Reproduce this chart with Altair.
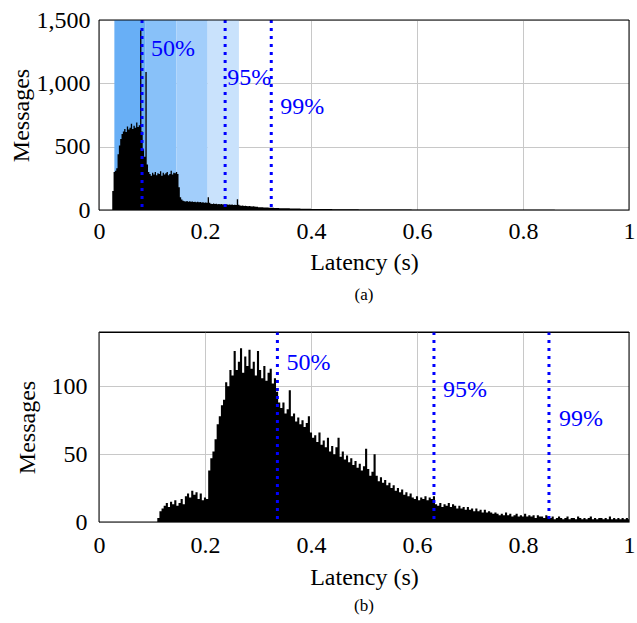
import altair as alt
import pandas as pd

FONT = "Liberation Serif"

# ---------------- panel (a) data ----------------
# histogram segments: (start, bin width, counts)
a_rise = [150, 300, 310, 330, 440, 510, 560, 600, 620, 640, 615, 660, 635, 650,
          680, 640, 665, 650, 690, 655, 670]                       # from 0.025
a_spikes = [1420, 620, 480, 420, 1090, 360, 300]                   # from 0.0775
a_plateau = [285, 270, 295, 280, 300, 275, 290, 285, 305, 270, 295, 280, 290,
             300, 275, 285, 310, 280, 295, 290, 300, 285]          # from 0.095
a_drop = [180, 100, 82, 74]                                        # from 0.150
a_low1 = [70, 68, 72, 66, 69, 65, 67, 64, 66, 62, 65, 61, 63, 60, 62, 58, 60, 57,
          100, 58]                                                 # from 0.160
a_low2 = [50, 48, 51, 47, 49, 46, 48, 45, 47, 44, 46, 43, 45, 42, 44, 41, 43, 40,
          42, 40, 85, 42]                                          # from 0.210
a_low3 = [36, 34, 35, 32, 33, 31, 30, 31, 29, 28, 29, 27, 26, 25]  # from 0.265
a_tail = [22, 19, 17, 16, 14, 13, 12, 11, 10, 9,
          8, 8, 7, 7, 6, 6, 5, 5, 5, 4,
          4, 4, 4, 3, 3, 3, 3, 3, 3, 2,
          2, 2, 2, 2, 2, 2, 2, 2, 2, 2,
          2, 2, 1, 2, 1, 2, 1, 1, 2, 1,
          1, 2, 1, 1, 1, 1]                                        # from 0.30, 0.01 bins
a_segments = [(0.025, 0.0025, a_rise), (0.0775, 0.0025, a_spikes),
              (0.095, 0.0025, a_plateau), (0.150, 0.0025, a_drop),
              (0.160, 0.0025, a_low1), (0.210, 0.0025, a_low2),
              (0.265, 0.0025, a_low3), (0.300, 0.01, a_tail)]
a_percentiles = [0.0812, 0.238, 0.325]
a_pct_labels = ["50%", "95%", "99%"]
a_label_y = [1270, 1045, 815]
a_label_dx = [9, 2, 9]
a_band_edges = [0.029, 0.088, 0.146, 0.205, 0.264]
a_band_colors = ["#68AFF6", "#88C1F9", "#A2CEFB", "#C9E2FC"]

# ---------------- panel (b) data ----------------
b_low = [3, 8, 10, 12, 14, 11, 15, 13, 16, 12, 14, 17, 13, 19, 21, 18, 23, 20,
         22, 17, 21, 16, 18, 17]                                   # from 0.110
b_peak = [38, 47, 52, 61, 72, 78, 86, 90, 103, 100, 112, 108, 126, 112, 118, 128,
          110, 122, 115, 127, 113, 118, 108, 126, 112, 106, 115, 104, 110, 113,
          102, 106]                                                # from 0.206
b_decay = [96, 88, 84, 88, 80, 83, 97, 78, 80, 74, 77, 72, 75, 70, 73, 78, 66, 62,
           64, 59, 66, 57, 60, 55, 62, 52, 56, 50, 55, 62, 48, 52, 46, 49, 44, 47,
           42, 45, 40, 43, 38, 41, 54, 39, 34, 37, 50, 34, 30, 33, 29, 31, 27, 29,
           25, 27, 23, 25, 22, 24, 20, 22, 19, 21, 18, 17, 19, 16, 18, 17, 19, 16,
           18, 17, 19]                                             # from 0.334
b_tail = [13, 12, 14, 11, 13, 12, 14, 11, 13, 12, 10, 12, 10, 11, 9, 11, 9, 10,
          8, 10, 8, 9, 7, 9, 7, 8, 7, 6, 7,
          6, 5, 6, 5, 7, 5, 6, 4, 5, 6, 4, 5, 4, 6, 4, 5, 4, 5, 3, 5, 4, 4, 3, 5, 4,
          3, 4, 2, 3, 4, 3, 2, 3, 4, 2, 3, 3, 2, 4, 3, 2, 3, 2, 3, 4, 2, 3, 2, 3, 3,
          2, 3, 2, 4, 2, 3, 2, 3, 2, 3, 2, 3, 2]                   # from 0.634
b_segments = [(0.110, 0.004, b_low), (0.206, 0.004, b_peak),
              (0.334, 0.004, b_decay), (0.634, 0.004, b_tail)]
b_percentiles = [0.3366, 0.632, 0.849]
b_pct_labels = ["50%", "95%", "99%"]
b_label_y = [117, 97, 76]
b_label_dx = [9, 9, 10]

x_ticks = [0, 0.2, 0.4, 0.6, 0.8, 1]


def build_hist(segments):
    xs, ys = [], []
    end = 0
    for start, step, vals in segments:
        for i, v in enumerate(vals):
            xs.append(round(start + i * step, 6))
            ys.append(v)
        end = start + len(vals) * step
    xs.append(round(end, 6))
    ys.append(0)
    return pd.DataFrame({"x": xs, "y": ys})


def panel(segments, pcts, labels, label_y, label_dx, ymax, yticks, caption,
          y_label_pad, y_title_pad, x_label_pad, x_title_pad, cap_offset,
          band_edges=None, band_colors=None):
    xdef = dict(scale=alt.Scale(domain=[0, 1], nice=False, zero=False, padding=0),
                axis=alt.Axis(values=x_ticks, format="~g", title="Latency (s)",
                              labelFlush=False,
                              labelPadding=x_label_pad, titlePadding=x_title_pad))
    ydef = dict(scale=alt.Scale(domain=[0, ymax], nice=False, padding=0),
                axis=alt.Axis(values=yticks, format=",.0f", title="Messages",
                              labelPadding=y_label_pad, titlePadding=y_title_pad))
    hist = build_hist(segments)
    layers = []
    if band_edges is not None:
        bands = pd.DataFrame({"x": band_edges[:-1], "x2": band_edges[1:],
                              "c": band_colors})
        layers.append(alt.Chart(bands).mark_rect().encode(
            x=alt.X("x:Q", **xdef), x2="x2:Q",
            color=alt.Color("c:N", scale=None)))
    layers.append(alt.Chart(hist).mark_area(
        interpolate="step-after", color="black", clip=True).encode(
        x=alt.X("x:Q", **xdef), y=alt.Y("y:Q", **ydef)))
    lines = pd.DataFrame({"x": pcts, "y": label_y, "t": labels, "dx": label_dx})
    layers.append(alt.Chart(lines).mark_rule(
        color="#0000FF", strokeDash=[3, 5], strokeWidth=3).encode(
        x=alt.X("x:Q", **xdef)))
    for _, r in lines.iterrows():
        layers.append(alt.Chart(pd.DataFrame([r])).mark_text(
            align="left", baseline="middle", dx=int(r["dx"]), color="#0000FF",
            font=FONT, fontSize=24).encode(
            x=alt.X("x:Q", **xdef), y=alt.Y("y:Q", **ydef), text="t:N"))
    frame = pd.DataFrame({"x": [0], "x2": [1], "y": [0], "y2": [ymax]})
    layers.append(alt.Chart(frame).mark_rect(
        fillOpacity=0, stroke="black", strokeWidth=1).encode(
        x=alt.X("x:Q", **xdef), x2="x2:Q", y=alt.Y("y:Q", **ydef), y2="y2:Q"))
    return alt.layer(*layers).properties(
        width=530, height=190,
        title=alt.TitleParams(caption, orient="bottom", font=FONT, fontSize=17,
                              fontWeight="normal", anchor="middle",
                              offset=cap_offset, color="black"))


top = panel(a_segments, a_percentiles, a_pct_labels, a_label_y, a_label_dx,
            1500, [0, 500, 1000, 1500], "(a)", 9, 3, 9, 7, 13,
            a_band_edges, a_band_colors)
bottom = panel(b_segments, b_percentiles, b_pct_labels, b_label_y, b_label_dx,
               140, [0, 50, 100], "(b)", 12, 12, 11, 8, 9)

chart = alt.vconcat(top, bottom, spacing=26).properties(
    padding={"left": 8, "top": 7, "right": 0, "bottom": 0},
    background="white"
).configure_view(stroke="black", strokeWidth=1).configure_axis(
    labelFont=FONT, labelFontSize=24, titleFont=FONT, titleFontSize=24,
    titleFontWeight="normal", labelColor="black", titleColor="black",
    grid=True, gridColor="#c8c8c8", gridWidth=1, domain=False, ticks=False
)

chart.save("out.html", embed_options={"renderer": "svg", "actions": False})
